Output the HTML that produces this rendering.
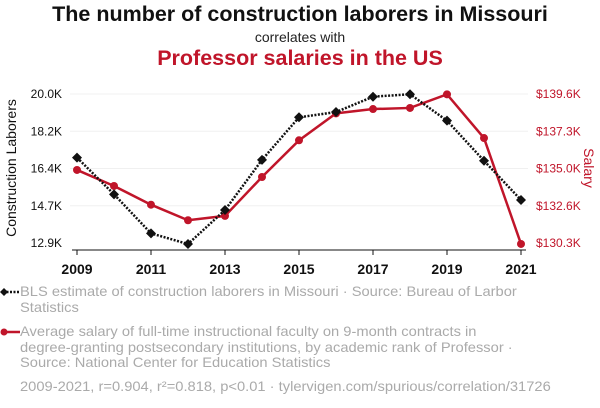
<!DOCTYPE html>
<html><head><meta charset="utf-8"><style>
body{margin:0;background:#fff;font-family:"Liberation Sans",sans-serif;}
#wrap{position:relative;width:600px;height:408px;overflow:hidden;}
.t{position:absolute;left:0;width:600px;text-align:center;}
.leg{position:absolute;left:20px;color:#aaa;font-size:14px;line-height:15.6px;white-space:nowrap;transform:scaleX(1.05);transform-origin:0 0;}
</style></head><body>
<div id="wrap">
<div class="t" style="top:2px;font-size:21.5px;font-weight:bold;color:#111">The number of construction laborers in Missouri</div>
<div class="t" style="top:29px;font-size:14px;color:#222">correlates with</div>
<div class="t" style="top:46px;font-size:21.5px;font-weight:bold;color:#c0152a">Professor salaries in the US</div>
<svg id="svg" width="600" height="280" style="position:absolute;left:0;top:0"></svg>
<div class="leg" style="top:284px">BLS estimate of construction laborers in Missouri · Source: Bureau of Larbor<br>Statistics</div>
<div class="leg" style="top:324px">Average salary of full-time instructional faculty on 9-month contracts in<br>degree-granting postsecondary institutions, by academic rank of Professor ·<br>Source: National Center for Education Statistics</div>
<div class="leg" style="top:379px">2009-2021, r=0.904, r²=0.818, p&lt;0.01 · tylervigen.com/spurious/correlation/31726</div>
<svg width="24" height="90" style="position:absolute;left:0;top:280px">
<line x1="3" y1="12" x2="20" y2="12" stroke="#111" stroke-width="2.5" stroke-dasharray="2,1.5"/><path d="M4 8L8 12L4 16L0 12Z" fill="#111"/>
<line x1="3" y1="52" x2="20" y2="52" stroke="#c0152a" stroke-width="2.5"/><circle cx="4" cy="52" r="3.5" fill="#c0152a"/>
</svg>
</div>
<script>
const years=[2009,2010,2011,2012,2013,2014,2015,2016,2017,2018,2019,2020,2021];
const laborers=[16.97,15.22,13.36,12.85,14.47,16.86,18.89,19.14,19.87,19.99,18.73,16.82,14.95];
const salary=[134.86,133.86,132.69,131.72,131.99,134.42,136.71,138.39,138.66,138.73,139.58,136.85,130.24];
const leftTicks=["12.9K","14.7K","16.4K","18.2K","20.0K"];
const rightTicks=["$130.3K","$132.6K","$135.0K","$137.3K","$139.6K"];
const xTicks=[2009,2011,2013,2015,2017,2019,2021];
const svg=document.getElementById('svg');const NS='http://www.w3.org/2000/svg';
function mk(t,a,p){const e=document.createElementNS(NS,t);for(const k in a)e.setAttribute(k,a[k]);(p||svg).appendChild(e);return e;}
const x=y=>77+(y-2009)*37;
const yL=v=>243-(v-12.9)/(20.0-12.9)*149;
const yR=v=>243-(v-130.3)/(139.6-130.3)*149;
for(let i=0;i<5;i++){const yy=243-i*149/4;
 if(i>0){const g=mk('line',{x1:70,x2:528,y1:yy,y2:yy,stroke:'#f0f0f0'});}
 const a=mk('text',{x:62,y:yy+4,'text-anchor':'end','font-size':12,fill:'#111'});a.textContent=leftTicks[i];
 const b=mk('text',{x:536,y:yy+4,'font-size':12,fill:'#c0152a'});b.textContent=rightTicks[i];}
xTicks.forEach(t=>{const l=mk('line',{x1:x(t),x2:x(t),y1:250,y2:255,stroke:'#111'});
 const e=mk('text',{x:x(t),y:274,'text-anchor':'middle','font-size':14,'font-weight':'bold',fill:'#111'});e.textContent=t;});
const ax=mk('line',{x1:72,x2:526,y1:250,y2:250,stroke:'#111'});
const lt=mk('text',{transform:'translate(16,168) rotate(-90)','text-anchor':'middle','font-size':14,fill:'#111'});lt.textContent='Construction Laborers';
const rt=mk('text',{transform:'translate(584,168) rotate(90)','text-anchor':'middle','font-size':14,fill:'#c0152a'});rt.textContent='Salary';
const rl=mk('polyline',{points:years.map((y,i)=>x(y)+','+yR(salary[i])).join(' '),fill:'none',stroke:'#c0152a','stroke-width':2.5});

years.forEach((y,i)=>{const c=mk('circle',{cx:x(y),cy:yR(salary[i]),r:4,fill:'#c0152a'});});
const bl=mk('polyline',{points:years.map((y,i)=>x(y)+','+yL(laborers[i])).join(' '),fill:'none',stroke:'#111','stroke-width':2.5,'stroke-dasharray':'2,1.5'});

years.forEach((y,i)=>{const cx=x(y),cy=yL(laborers[i]);const p=mk('path',{d:`M${cx} ${cy-5}L${cx+5} ${cy}L${cx} ${cy+5}L${cx-5} ${cy}Z`,fill:'#111'});});
</script>
</body></html>
